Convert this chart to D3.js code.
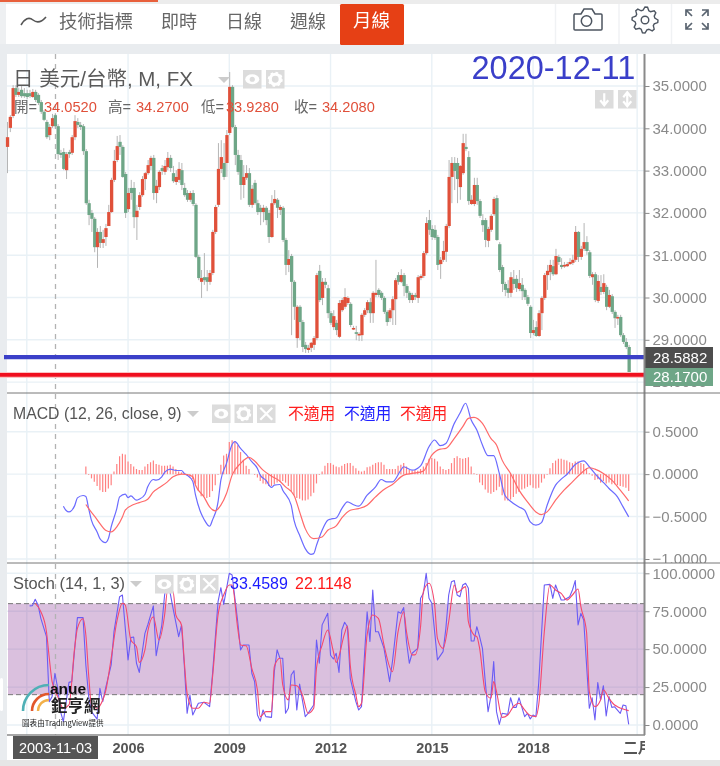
<!DOCTYPE html>
<html><head><meta charset="utf-8">
<script src="https://cdn.jsdelivr.net/npm/d3@7"></script>
<style>
html,body{margin:0;padding:0;background:#fff}
svg{display:block;filter:blur(.3px)}
text{font-family:"Liberation Sans","Noto Sans CJK TC",sans-serif}
.cjk{font-family:"Noto Sans CJK TC",sans-serif}
</style></head><body>
<svg id="c" width="720" height="766"></svg>
<script>
const opens=[33.56,34.01,34.29,34.95,34.79,34.91,34.83,34.83,34.83,34.74,
34.86,34.79,34.62,34.39,34.15,33.84,34.05,34.31,34.05,33.42,
33.44,33.01,33.44,33.42,33.79,34.15,34.08,34.05,33.46,32.23,
32.00,31.86,31.19,31.55,31.29,31.43,31.69,32.02,32.78,33.25,
33.68,33.56,32.92,32.09,32.59,32.59,31.90,32.14,32.42,32.80,
32.94,33.11,33.30,32.47,32.61,33.06,32.97,33.08,33.30,32.94,
32.73,32.78,33.01,32.59,32.47,32.31,32.47,32.19,30.96,30.37,
30.48,30.48,30.37,30.58,31.55,32.19,33.04,33.18,33.18,33.89,
34.98,34.03,33.37,33.25,32.66,32.83,32.94,32.19,32.71,32.23,
32.12,32.02,32.12,32.00,31.43,32.23,32.31,32.07,32.12,31.36,
30.77,30.98,30.37,29.04,29.78,29.42,28.88,28.76,28.81,28.88,
29.04,30.63,29.99,30.37,30.22,29.63,29.30,29.40,29.07,29.70,
29.78,29.87,29.85,29.26,29.18,29.11,29.11,29.59,29.70,29.89,
29.63,30.06,30.18,30.11,29.99,29.66,29.51,29.70,29.96,30.53,
30.37,30.53,30.27,30.11,29.94,30.06,29.99,30.46,30.51,31.05,
31.83,31.62,31.60,31.43,30.79,30.89,31.08,31.69,32.85,33.18,
33.18,32.61,32.94,33.56,33.32,32.21,32.21,32.66,32.28,31.83,
31.83,31.34,31.60,31.97,32.35,31.26,30.72,30.32,30.22,30.11,
30.44,30.44,30.20,30.30,30.18,30.01,29.78,29.16,29.30,29.09,
29.63,29.99,30.53,30.60,30.74,30.55,30.96,30.77,30.74,30.74,
30.79,30.82,30.89,31.55,30.96,31.15,31.31,31.07,30.48,30.55,
29.92,30.25,30.13,30.25,29.78,30.03,29.66,29.51,29.54,29.11,28.95,28.83];
const closes=[33.79,34.27,34.95,34.79,34.86,34.76,34.76,34.74,34.76,34.86,
34.67,34.60,34.39,34.20,33.79,34.03,34.24,34.05,33.39,33.37,
33.04,33.39,33.39,33.79,34.17,34.08,34.03,33.46,32.23,31.95,
31.86,31.19,31.55,31.29,31.38,31.64,32.02,32.78,33.23,33.58,
33.56,32.85,32.00,32.47,32.47,31.90,32.05,32.42,32.80,32.94,
33.13,33.30,32.47,32.64,32.97,32.99,33.11,33.30,33.06,32.75,
32.85,33.04,32.66,32.42,32.31,32.47,32.21,30.96,30.46,30.46,
30.41,30.37,30.58,31.55,32.14,33.04,33.32,32.85,33.84,34.98,
34.03,33.37,32.97,32.66,32.85,32.94,32.19,32.57,32.23,32.02,
32.02,32.12,31.83,31.43,32.23,32.33,32.12,32.14,31.36,30.77,
30.91,30.37,29.78,29.78,29.42,28.83,28.78,28.81,28.93,29.04,
30.53,29.94,30.37,30.30,29.63,29.40,29.56,29.23,29.87,29.94,
30.01,29.99,29.35,29.28,29.14,29.14,29.59,29.70,29.89,29.63,
30.11,30.11,30.06,29.99,29.66,29.42,29.70,29.96,30.41,30.37,
30.53,30.27,30.11,29.94,30.06,30.01,30.48,30.51,31.05,31.76,
31.60,31.43,31.41,30.77,30.89,31.10,31.69,32.85,33.18,32.99,
32.80,33.11,33.65,33.51,32.28,32.31,32.66,32.28,31.93,31.71,
31.36,31.62,31.93,32.33,31.36,30.65,30.32,30.18,30.11,30.48,
30.32,30.22,30.34,30.15,30.01,29.85,29.16,29.23,29.09,29.63,
29.99,30.53,30.63,30.77,30.55,30.98,30.84,30.72,30.77,30.79,
30.84,30.89,31.55,30.96,31.15,31.31,31.10,30.51,30.55,29.94,
30.39,30.13,30.34,29.78,30.06,29.66,29.51,29.54,29.11,28.95,28.83,28.17];
const highs=[34.15,34.31,35.02,35.02,34.95,35.00,34.95,34.91,34.91,34.93,
34.91,34.83,34.67,34.43,34.20,34.10,34.34,34.36,34.10,33.49,
33.53,33.44,33.49,33.84,34.31,34.24,34.15,34.10,33.51,32.31,
32.07,31.90,31.64,31.69,31.60,31.74,32.19,32.83,33.49,33.82,
33.84,33.60,32.97,32.59,32.78,32.73,32.19,32.49,32.87,32.97,
33.25,33.35,33.37,32.78,33.01,33.13,33.25,33.44,33.37,33.11,
33.01,33.20,33.18,32.71,32.54,32.52,32.54,32.23,31.01,30.65,
31.05,30.65,30.65,31.60,32.19,33.65,33.72,33.65,33.96,35.33,
35.02,34.08,33.49,33.37,33.13,33.13,33.06,32.66,32.78,32.31,
32.19,32.19,32.16,32.07,32.42,32.54,32.35,32.19,32.16,31.41,
31.12,31.03,30.41,29.82,29.82,29.47,28.95,28.88,28.95,29.09,
30.58,30.77,30.46,30.46,30.30,29.68,29.70,29.47,29.94,29.99,
30.22,30.03,29.89,29.33,29.33,29.18,29.63,29.75,29.94,29.99,
30.15,30.89,30.22,30.15,30.03,29.70,29.75,30.03,30.46,30.60,
30.67,30.58,30.32,30.15,30.11,30.11,30.53,30.55,31.10,31.90,
32.07,31.71,31.71,31.48,30.96,31.34,31.74,33.25,33.32,33.32,
33.30,33.13,33.87,33.87,33.46,32.42,32.83,32.83,32.33,31.97,
31.88,31.67,31.97,32.38,32.42,31.31,30.77,30.37,30.41,30.60,
30.65,30.53,30.65,30.46,30.22,30.06,29.82,29.47,29.44,29.70,
30.03,30.58,30.77,30.89,30.89,31.15,31.01,30.93,30.84,30.84,
30.93,31.01,31.69,31.57,31.22,31.76,31.45,31.12,30.60,30.60,
30.53,30.53,30.55,30.30,30.18,30.08,29.70,29.59,29.59,29.16,29.04,28.88];
const lows=[32.94,33.91,34.24,34.74,34.74,34.72,34.72,34.69,34.72,34.72,
34.62,34.55,34.34,34.17,33.75,33.72,34.01,34.01,33.25,33.30,
33.01,32.80,33.30,33.37,33.72,34.01,33.96,33.37,32.19,31.71,
31.55,31.07,30.70,31.17,31.17,31.22,31.74,32.00,32.73,33.20,
33.37,32.83,31.88,32.02,32.31,31.64,31.36,32.07,32.38,32.54,
32.90,33.01,32.31,32.23,32.54,32.90,32.90,33.01,32.97,32.71,
32.66,32.71,32.54,32.38,32.26,32.26,32.16,30.93,30.41,29.99,
30.30,30.15,30.30,30.53,31.50,32.14,32.94,32.78,32.85,33.84,
34.01,33.13,32.90,32.31,32.35,32.78,32.14,32.12,32.19,31.95,
31.71,31.78,31.71,31.29,31.41,32.19,31.88,31.95,31.31,30.53,
30.60,29.11,29.47,28.81,28.99,28.71,28.69,28.69,28.71,28.76,
28.99,29.89,29.82,30.22,29.51,29.35,29.23,29.11,29.04,29.66,
29.73,29.82,29.30,29.23,28.99,28.97,28.97,29.54,29.63,29.40,
29.40,30.01,30.01,29.94,29.61,29.33,29.42,29.35,29.35,30.30,
30.34,30.03,29.99,29.87,29.87,29.94,29.87,30.41,30.46,31.01,
31.48,31.36,31.36,30.65,30.44,30.84,30.84,31.64,32.23,32.54,
32.23,32.31,32.90,33.46,32.19,32.19,32.16,32.19,31.88,31.55,
31.19,31.19,31.55,31.93,31.34,30.60,30.13,30.03,29.99,30.01,
30.18,30.13,30.15,29.94,29.94,29.80,29.04,29.11,29.07,29.07,
29.23,29.94,30.18,30.41,30.51,30.53,30.77,30.67,30.70,30.72,
30.77,30.77,30.84,30.84,30.89,31.10,31.01,30.46,30.30,29.89,
29.87,30.06,30.08,29.70,29.75,29.61,29.28,29.35,29.07,28.90,28.78,28.17];

const macdIndex=[20,21,22,24,25,27,28,29,30,32,33,35,36,37,39,40,42,43,44,46,47,49,50,52,53,55,56,58,60,62,63,64,66,67,69,70,72,73,75,76,78,80,81,83,85,87,89,90,92,94,95,97,98,101,102,104,106,108,109,110,112,114,115,117,119,121,123,125,128,131,133,135,137,140,141,144,147,150,152,154,156,159,161,163,165,167,169,171,173,175,177,179,182,184,186,188,190,192,195,197,199,202,205,207,210,212,214,217,219,221];
const macdValues=[-0.378,-0.429,-0.445,-0.374,-0.280,-0.252,-0.264,-0.406,-0.544,-0.681,-0.760,-0.807,-0.760,-0.622,-0.406,-0.268,-0.236,-0.276,-0.256,-0.307,-0.295,-0.240,-0.150,-0.063,-0.071,-0.031,0.020,0.059,0.043,0.043,0.008,-0.012,-0.083,-0.248,-0.465,-0.531,-0.614,-0.543,-0.327,-0.071,0.126,0.350,0.382,0.303,0.232,0.146,0.067,-0.012,-0.071,-0.157,-0.130,-0.122,-0.189,-0.366,-0.543,-0.720,-0.878,-0.945,-0.937,-0.839,-0.661,-0.543,-0.531,-0.516,-0.406,-0.327,-0.358,-0.378,-0.248,-0.150,-0.063,-0.091,-0.091,0.047,0.087,0.047,0.098,0.323,0.402,0.335,0.362,0.598,0.717,0.835,0.638,0.520,0.343,0.217,0.217,0.008,-0.248,-0.319,-0.386,-0.425,-0.563,-0.602,-0.571,-0.366,-0.130,-0.059,-0.004,0.114,0.157,0.087,-0.031,-0.098,-0.169,-0.268,-0.386,-0.504];
const signalIndex=[28,29,31,33,35,37,39,41,42,45,47,50,52,54,57,59,62,64,66,67,70,72,74,76,78,80,83,86,88,91,94,97,99,102,104,106,109,112,114,117,119,122,125,128,131,134,137,141,144,148,151,154,156,159,162,164,166,169,172,174,176,179,182,185,188,190,192,195,198,201,204,207,209,212,215,218,221];
const signalValues=[-0.358,-0.406,-0.492,-0.583,-0.661,-0.681,-0.622,-0.504,-0.425,-0.358,-0.335,-0.295,-0.209,-0.161,-0.091,-0.031,0,-0.004,-0.031,-0.130,-0.268,-0.386,-0.433,-0.366,-0.228,-0.012,0.126,0.197,0.154,0.047,-0.024,-0.083,-0.150,-0.248,-0.445,-0.642,-0.760,-0.740,-0.661,-0.610,-0.516,-0.425,-0.406,-0.366,-0.268,-0.181,-0.122,-0.012,0.008,0.035,0.224,0.295,0.303,0.421,0.559,0.657,0.669,0.598,0.421,0.343,0.165,0.008,-0.189,-0.327,-0.445,-0.476,-0.445,-0.307,-0.189,-0.091,0.008,0.075,0.059,0.008,-0.071,-0.189,-0.315];
const histStart=28;
const histValues=[0.09,-0.01,-0.05,-0.09,-0.14,-0.19,-0.21,-0.21,-0.17,-0.13,
0.03,0.12,0.21,0.24,0.23,0.15,0.12,0.09,0.06,0.05,0.05,0.09,0.12,0.14,0.16,0.12,0.11,0.10,0.10,0.10,0.11,0.09,0.06,0.03,0.02,0.00,
-0.01,-0.03,-0.06,-0.12,-0.20,-0.26,-0.26,-0.28,-0.27,-0.20,-0.13,-0.01,
0.11,0.22,0.24,0.38,0.40,0.39,0.34,0.26,0.17,0.10,0.06,0.00,
-0.01,-0.04,-0.08,-0.11,-0.12,-0.14,-0.14,-0.12,-0.10,-0.09,-0.08,-0.10,-0.14,-0.20,-0.25,-0.28,-0.29,-0.31,-0.31,-0.30,-0.26,-0.22,-0.11,-0.01,
0.03,0.10,0.13,0.13,0.11,0.09,0.08,0.10,0.12,0.13,0.13,0.10,0.07,0.04,0.03,0.04,0.08,0.09,0.11,0.13,0.14,0.14,0.11,0.06,0.06,0.06,0.06,0.10,0.11,0.13,0.09,0.05,0.04,0.05,0.04,0.06,0.09,0.13,0.18,0.19,0.18,0.15,0.09,0.06,0.05,0.06,0.13,0.19,0.21,0.19,0.18,0.19,0.20,0.09,0.01,
-0.01,-0.10,-0.13,-0.18,-0.22,-0.23,-0.21,-0.19,-0.15,-0.25,-0.31,-0.31,-0.30,-0.27,-0.23,-0.21,-0.18,-0.17,-0.15,-0.13,-0.16,-0.17,-0.16,-0.10,-0.05,-0.01,
0.07,0.13,0.16,0.18,0.18,0.17,0.16,0.14,0.13,0.15,0.15,0.13,0.12,0.07,0.01,
-0.02,-0.07,-0.06,-0.10,-0.08,-0.11,-0.10,-0.12,-0.12,-0.13,-0.14,-0.15,-0.16,-0.20];

const stochKIndex=[8,9,10,11,12,14,15,16,17,18,19,20,22,23,25,27,28,29,30,32,33,34,35,37,38,40,41,43,44,45,46,47,49,50,52,53,55,56,57,59,61,62,63,64,65,66,68,70,72,73,75,76,77,79,80,82,83,84,86,87,88,89,90,91,92,94,95,96,97,98,99,100,101,102,103,104,106,107,109,110,111,112,114,115,116,117,118,119,120,121,122,124,125,126,127,128,129,130,131,132,134,136,137,139,140,141,142,143,144,146,147,148,149,150,151,153,155,156,157,158,159,160,161,162,163,164,165,166,167,168,169,170,171,172,173,174,175,176,178,179,180,181,182,184,185,186,187,188,189,191,193,194,195,197,198,200,201,202,203,204,205,207,208,209,210,211,212,213,214,215,216,218,219,220,221];
const stochKValues=[78.5,78.7,82.9,79.1,70.3,58.2,15.4,18.7,34.1,24.2,8.8,2.2,28.1,28.6,70.8,70.8,39.6,18.7,8.8,3.9,24.2,15.4,24.2,39.6,61.5,84.6,85.7,42.9,57.6,58,40.7,34.7,60.4,65.9,78.5,45.7,65.9,85.7,96.7,76.9,58.2,65.9,39.6,7.7,19.8,6.6,14.3,15,12.1,33,81.3,90.5,79.5,100,98.9,68.1,49.5,52.7,52.7,34.1,28.6,6.6,2.6,9.9,5.5,5,35.2,49.5,44,44,7.7,11,33,35.8,9.9,27,5.5,7.7,13.2,56,40.7,66,73.6,46,43.5,47.3,34.7,62.6,67.7,64.8,30.8,15.4,9.9,12.1,44,74.7,55,89,61.5,61.5,50.5,28.6,41.8,74.7,73.6,77.4,54.9,40.7,47.3,50.5,83.5,86.8,100,83.5,80.2,42.9,48.4,63.7,85.7,94.5,95.2,85.7,84.6,92.3,93.4,90.1,55.4,55.4,64.8,58.2,50.5,28.6,8.8,18.7,41.8,8.8,0.4,7.7,7,18,11.6,11.6,18,5.5,7.7,4,6.6,5.5,27.5,92.3,92.7,83.5,92.3,82.4,82.4,84.6,89,95.2,66,73.6,69.2,11,18,3.3,28,16.5,25.9,6,18.7,11.6,12,7.7,13.2,12.7,0.4];
const stochDIndex=[10,12,14,15,16,18,20,22,24,25,27,28,29,30,32,34,35,37,39,41,42,44,46,47,49,50,52,54,56,57,59,60,62,63,64,66,68,70,72,73,75,77,79,80,82,83,85,87,89,90,92,94,95,97,98,100,101,103,105,107,109,110,112,114,116,117,120,121,122,124,125,126,128,130,132,134,137,139,141,142,144,145,147,148,150,152,153,155,157,159,160,163,164,166,167,168,170,172,173,174,176,178,180,182,184,186,188,189,191,193,195,197,199,201,203,204,206,207,209,211,212,214,216,217,219,221];
const stochDValues=[80.2,74.7,61.5,44,28.6,18.7,11,13.2,50.5,63.7,70,59.3,33,13.2,11,16.5,22,44,68.1,80.2,79.1,56,51.6,41.3,49.5,61.5,71.4,56,72.5,87.9,87.9,72.5,65.9,41.8,20.9,11,11,15,14.3,30.8,72.5,85.7,92.3,92.3,63.7,52.7,52.2,37.4,23.1,5.5,8.8,8.8,38.5,44,26.4,16.5,26.4,25.9,19.8,7.7,11,37.4,52.7,62.6,48.4,41.3,60.4,65.3,39.6,19.8,12.1,14.3,59.3,72.5,70.3,52.7,35.2,61.5,74.7,61.5,46.2,46.2,64.8,87.9,93.4,79.1,57.1,50.5,68.1,92.3,87.4,91.2,68.1,59.3,58.2,50.5,22,17.6,28.6,22,5,6.6,12.1,14.3,9.9,6.2,5.5,13.2,61.5,92.3,89,86.8,82.4,85.7,89.7,78,61.5,22,12.1,16.5,23.1,17.6,13.2,12.1,10.5,9.5];

const priceTicks=[35,34,33,32,31,30,29,28];
const macdTicks=[0.5,0,-0.5,-1];
const stochTicks=[100,75,50,25,0];
const bandRange=[80,20];
const gridTimeIndex=[7,43,79,115,151,187,224];
const timeTickIndex=[43,79,115,151,187,224];
const timeTickLabels=["2006","2009","2012","2015","2018","二月"];
const tabs=["即時","日線","週線"];

const svg=d3.select("#c");
const INK="#666",AXIS="#8a8a8a",GRID="#e9f1f6",UP="#e0503a",DOWN="#6ea687";
const x=d3.scaleLinear().domain([0,221]).range([7.1,628.7]);
const yP=d3.scaleLinear().domain([35,28]).range([86,382.1]);
const yM=d3.scaleLinear().domain([0.5,-1]).range([431.7,559]);
const yS=d3.scaleLinear().domain([100,0]).range([573.3,725]);

// page background
svg.append("rect").attr("width",720).attr("height",766).attr("fill","#fff");
svg.append("rect").attr("width",720).attr("height",4).attr("fill","#ececec");
svg.append("rect").attr("x",0).attr("y",0).attr("width",158).attr("height",2).attr("fill","#e8603c");
svg.append("rect").attr("y",44).attr("width",720).attr("height",10).attr("fill","#e9ecef");
svg.append("rect").attr("y",44).attr("width",7).attr("height",716).attr("fill","#e9ecef");
svg.append("rect").attr("y",760).attr("width",720).attr("height",6).attr("fill","#e6e6e6");
svg.append("rect").attr("y",4).attr("width",6).attr("height",40).attr("fill","#eef0f2");
svg.append("rect").attr("y",678).attr("width",3).attr("height",33).attr("rx",1.5).attr("fill","#fff");

// toolbar
const tb=svg.append("g");
tb.append("path").attr("d","M21 25 Q27 15 33 20 T46 17").attr("fill","none").attr("stroke","#555").attr("stroke-width",1.6);
tb.append("text").attr("class","cjk").attr("x",59).attr("y",27.5).attr("font-size",18.5).attr("fill",INK).text("技術指標");
tabs.forEach((t,i)=>tb.append("text").attr("class","cjk").attr("x",[161,226,290][i]).attr("y",27.5).attr("font-size",18).attr("fill",INK).text(t));
tb.append("rect").attr("x",340).attr("y",4).attr("width",64).attr("height",41).attr("rx",1.5).attr("fill","#e64015");
tb.append("text").attr("class","cjk").attr("x",353).attr("y",27).attr("font-size",18.5).attr("fill","#fff").text("月線");
[555.5,619,671.5].forEach(v=>tb.append("line").attr("x1",v).attr("x2",v).attr("y1",4).attr("y2",44).attr("stroke","#f0f2f4").attr("stroke-width",1.5));
tb.append("path").attr("d","M574 14 h7 l3 -5 h8 l3 5 h6 a1 1 0 0 1 1 1 v14 a1 1 0 0 1 -1 1 h-26 a1 1 0 0 1 -1 -1 v-14 a1 1 0 0 1 1 -1z").attr("fill","none").attr("stroke","#4d5560").attr("stroke-width",1.5);
tb.append("circle").attr("cx",586.5).attr("cy",21).attr("r",5.2).attr("fill","none").attr("stroke","#4d5560").attr("stroke-width",1.5);
const gearPath=(cx,cy,ro,ri,n)=>d3.line().curve(d3.curveLinearClosed)(d3.range(n*4).map(k=>{const a=k/(n*4)*2*Math.PI,r=(k%4<2)?ro:ri;return [cx+r*Math.cos(a),cy+r*Math.sin(a)];}));
tb.append("path").attr("d",gearPath(645,20,13,10,8)).attr("fill","none").attr("stroke","#4d5560").attr("stroke-width",1.4);
tb.append("circle").attr("cx",645).attr("cy",20).attr("r",3.8).attr("fill","none").attr("stroke","#4d5560").attr("stroke-width",1.4);
["M686 16 v-6 h6 M686 10 l6 6","M708 16 v-6 h-6 M708 10 l-6 6","M686 23 v6 h6 M686 29 l6 -6","M708 23 v6 h-6 M708 29 l-6 -6"].forEach(d=>tb.append("path").attr("d",d).attr("fill","none").attr("stroke","#5a6470").attr("stroke-width",1.7));

// grid
const grid=svg.append("g").attr("stroke",GRID).attr("stroke-width",1.4);
const gridH=(ticks,y,y0,y1)=>ticks.forEach(t=>{const v=y(t);if(v>y0&&v<y1)grid.append("line").attr("x1",7).attr("x2",644).attr("y1",v).attr("y2",v);});
gridH(priceTicks,yP,54,393);gridH(macdTicks,yM,393,563);gridH(stochTicks,yS,563,735);
gridTimeIndex.forEach(i=>grid.append("line").attr("x1",x(i)).attr("x2",x(i)).attr("y1",54).attr("y2",735));

// stochastic band
svg.append("rect").attr("x",8).attr("width",636).attr("y",yS(bandRange[0])).attr("height",yS(bandRange[1])-yS(bandRange[0])).attr("fill","#8f3f9a").attr("opacity",.33);
bandRange.forEach(v=>svg.append("line").attr("x1",8).attr("x2",644).attr("y1",yS(v)).attr("y2",yS(v)).attr("stroke","#777").attr("stroke-width",1).attr("stroke-dasharray","5 3"));

// crosshair
svg.append("line").attr("x1",55.5).attr("x2",55.5).attr("y1",54).attr("y2",735).attr("stroke","#b3b3b3").attr("stroke-width",1.3).attr("stroke-dasharray","5 5");

// candles
const idx=d3.range(closes.length);
svg.append("g").selectAll("line").data(idx).join("line")
 .attr("x1",i=>x(i)+.4).attr("x2",i=>x(i)+.4).attr("y1",i=>yP(highs[i])).attr("y2",i=>yP(lows[i]))
 .attr("stroke","#b5b5b5").attr("stroke-width",1);
svg.append("g").selectAll("rect").data(idx).join("rect")
 .attr("x",i=>x(i)-1.2).attr("width",3.3)
 .attr("y",i=>Math.min(yP(opens[i]),yP(closes[i])))
 .attr("height",i=>Math.max(1.6,Math.abs(yP(opens[i])-yP(closes[i]))))
 .attr("fill",i=>closes[i]>=opens[i]?UP:DOWN);

// MACD
svg.append("g").selectAll("line").data(histValues).join("line")
 .attr("x1",(d,i)=>x(histStart+i)).attr("x2",(d,i)=>x(histStart+i))
 .attr("y1",yM(0)).attr("y2",d=>yM(d)).attr("stroke","#ff8080").attr("stroke-width",1.2);
const lineOf=(xs,vs,y,col,w,curve)=>svg.append("path").datum(vs.map((v,i)=>[xs[i],v]))
 .attr("fill","none").attr("stroke",col).attr("stroke-width",w).attr("stroke-linejoin","round")
 .attr("d",d3.line().curve(curve).x(d=>x(d[0])).y(d=>y(d[1])));
lineOf(macdIndex,macdValues,yM,"#6b6bff",1.2,d3.curveMonotoneX);
lineOf(signalIndex,signalValues,yM,"#ff6a6a",1.2,d3.curveMonotoneX);
lineOf(stochKIndex,stochKValues,yS,"#6a5cf5",1.1,d3.curveLinear);
lineOf(stochDIndex,stochDValues,yS,"#f5486e",1.1,d3.curveMonotoneX);

// reference lines
svg.append("line").attr("x1",4).attr("x2",648).attr("y1",yP(28.5882)).attr("y2",yP(28.5882)).attr("stroke","#3b40c8").attr("stroke-width",4.2);
svg.append("line").attr("x1",0).attr("x2",645).attr("y1",yP(28.17)).attr("y2",yP(28.17)).attr("stroke","#fbc4c4").attr("stroke-width",6);
svg.append("line").attr("x1",0).attr("x2",644).attr("y1",yP(28.17)).attr("y2",yP(28.17)).attr("stroke","#f00f1e").attr("stroke-width",3.6);

// right axes via d3.axis, clipped to their panes
const clip=(id,y0,y1)=>svg.append("clipPath").attr("id",id).append("rect").attr("x",640).attr("width",80).attr("y",y0).attr("height",y1-y0);
clip("cp1",54,393);clip("cp2",393,563);clip("cp3",563,735);
const fmt=d3.format(".4f");
const mkAxis=(y,ticks,id)=>{const g=svg.append("g").attr("clip-path","url(#"+id+")").append("g").attr("transform","translate(644.5,0)")
  .call(d3.axisRight(y).tickValues(ticks).tickFormat(fmt).tickSize(5).tickPadding(3));
  g.select(".domain").remove();
  g.selectAll(".tick line").attr("stroke",AXIS);
  g.selectAll("text").attr("fill",AXIS).attr("font-size",15).attr("font-family","Liberation Sans");};
mkAxis(yP,priceTicks,"cp1");mkAxis(yM,macdTicks,"cp2");mkAxis(yS,stochTicks,"cp3");

// price labels
const lab=(y0,h,fill,txt)=>{svg.append("rect").attr("x",645).attr("y",y0).attr("width",68).attr("height",h).attr("fill",fill);
 svg.append("text").attr("x",653).attr("y",y0+h/2+5.3).attr("font-size",15).attr("fill","#fff").text(txt);};
lab(347,21,"#4d4d4d","28.5882");
lab(368,18,DOWN,"28.1700");

// frame
svg.append("line").attr("x1",644.5).attr("x2",644.5).attr("y1",54).attr("y2",735).attr("stroke",AXIS).attr("stroke-width",2);
[393,563].forEach(v=>svg.append("line").attr("x1",7).attr("x2",720).attr("y1",v).attr("y2",v).attr("stroke","#777").attr("stroke-width",1));
svg.append("line").attr("x1",7).attr("x2",645).attr("y1",735).attr("y2",735).attr("stroke",AXIS).attr("stroke-width",1.6);

// time axis
svg.append("clipPath").attr("id","cpx").append("rect").attr("x",7).attr("y",736).attr("width",638).attr("height",24);
const gx=svg.append("g").attr("clip-path","url(#cpx)").append("g").attr("transform","translate(0,735)")
 .call(d3.axisBottom(x).tickValues(timeTickIndex).tickFormat((d,i)=>timeTickLabels[i]).tickSize(0).tickPadding(8));
gx.select(".domain").remove();
gx.selectAll("text").attr("fill","#555").attr("font-size",14.5).attr("font-weight","bold").attr("font-family","Liberation Sans, Noto Sans CJK TC");
svg.append("rect").attr("x",13).attr("y",736).attr("width",85).attr("height",23).attr("fill","#555");
svg.append("text").attr("x",55.5).attr("y",753).attr("text-anchor","middle").attr("font-size",14.5).attr("fill","#fff").text("2003-11-03");

// headers
const txt=(xx,y,s,size,fill,cls)=>svg.append("text").attr("x",xx).attr("y",y).attr("font-size",size).attr("fill",fill).attr("class",cls||null).text(s);
txt(13,86,"日 美元/台幣, M, FX",20.5,"#5a5a5a");
txt(471.5,78.5,"2020-12-11",32.5,"#3a3fc9");
const legend=[["開=",14,"#666"],["34.0520",44,"#e0503a"],["高=",108,"#666"],["34.2700",136,"#e0503a"],["低=",201,"#666"],["33.9280",226,"#e0503a"],["收=",294,"#666"],["34.2080",322,"#e0503a"]];
legend.forEach(d=>txt(d[1],112,d[0],14.6,d[2]));
const tri=(xx,y)=>svg.append("path").attr("d",`M${xx-6} ${y-3} h12 l-6 6z`).attr("fill","#ccc");
tri(224,80);tri(193,414);tri(136,584);
const btn=(xx,y,kind)=>{const g=svg.append("g");g.append("rect").attr("x",xx).attr("y",y).attr("width",18.5).attr("height",18.5).attr("fill","#dcdcdc");
 const cx=xx+9.25,cy=y+9.25;
 if(kind=="eye"){g.append("ellipse").attr("cx",cx).attr("cy",cy).attr("rx",7).attr("ry",5).attr("fill","#fff");g.append("circle").attr("cx",cx).attr("cy",cy).attr("r",2.6).attr("fill","#dcdcdc");}
 if(kind=="gear"){g.append("circle").attr("cx",cx).attr("cy",cy).attr("r",5).attr("fill","none").attr("stroke","#fff").attr("stroke-width",3.2);g.append("circle").attr("cx",cx).attr("cy",cy).attr("r",6.6).attr("fill","none").attr("stroke","#fff").attr("stroke-width",1.8).attr("stroke-dasharray","2.6 2.6");}
 if(kind=="x"){g.append("path").attr("d",`M${cx-6} ${cy-6} L${cx+6} ${cy+6} M${cx+6} ${cy-6} L${cx-6} ${cy+6}`).attr("stroke","#fff").attr("stroke-width",2.2);}
 if(kind=="down"){g.append("path").attr("d",`M${cx} ${cy-6} V${cy+5} M${cx-4} ${cy+1} L${cx} ${cy+6} L${cx+4} ${cy+1}`).attr("fill","none").attr("stroke","#fff").attr("stroke-width",2.2);}
 if(kind=="both"){g.append("path").attr("d",`M${cx} ${cy-6} V${cy+6} M${cx-4} ${cy-2} L${cx} ${cy-7} L${cx+4} ${cy-2} M${cx-4} ${cy+2} L${cx} ${cy+7} L${cx+4} ${cy+2}`).attr("fill","none").attr("stroke","#fff").attr("stroke-width",2.2);}
};
btn(243,70,"eye");btn(266,70,"gear");btn(595,90,"down");btn(618,90,"both");
txt(13,419,"MACD (12, 26, close, 9)",15.8,"#555");
btn(212,404.5,"eye");btn(234.5,404.5,"gear");btn(257,404.5,"x");
txt(288,419,"不適用",15.8,"#ff2020","cjk");txt(344,419,"不適用",15.8,"#2020ff","cjk");txt(400,419,"不適用",15.8,"#ff2020","cjk");
txt(13,589,"Stoch (14, 1, 3)",16.4,"#555");
btn(155,575,"eye");btn(177.5,575,"gear");btn(200,575,"x");
txt(230,589,"33.4589",16,"#1a1aff");txt(295,589,"22.1148",16,"#ff1a1a");

// logo
const arc=(r,col,w)=>svg.append("path").attr("transform","translate(49,711)").attr("fill","none").attr("stroke",col).attr("stroke-width",w).attr("stroke-linecap","round")
 .attr("d",d3.arc()({innerRadius:r,outerRadius:r,startAngle:-Math.PI/2,endAngle:0}));
arc(26,"#4fb0b6",2.6);arc(17,"#e2572b",2.6);arc(11,"#f2b04a",2.4);
svg.append("text").attr("x",50).attr("y",694).attr("font-size",15.5).attr("font-weight","bold").attr("fill","#111").text("anue");
svg.append("text").attr("class","cjk").attr("x",51).attr("y",712).attr("font-size",16.5).attr("font-weight","bold").attr("fill","#222").text("鉅亨網");
svg.append("text").attr("class","cjk").attr("x",22).attr("y",726).attr("font-size",7.6).attr("fill","#222").text("圖表由TradingView提供");
</script></body></html>
